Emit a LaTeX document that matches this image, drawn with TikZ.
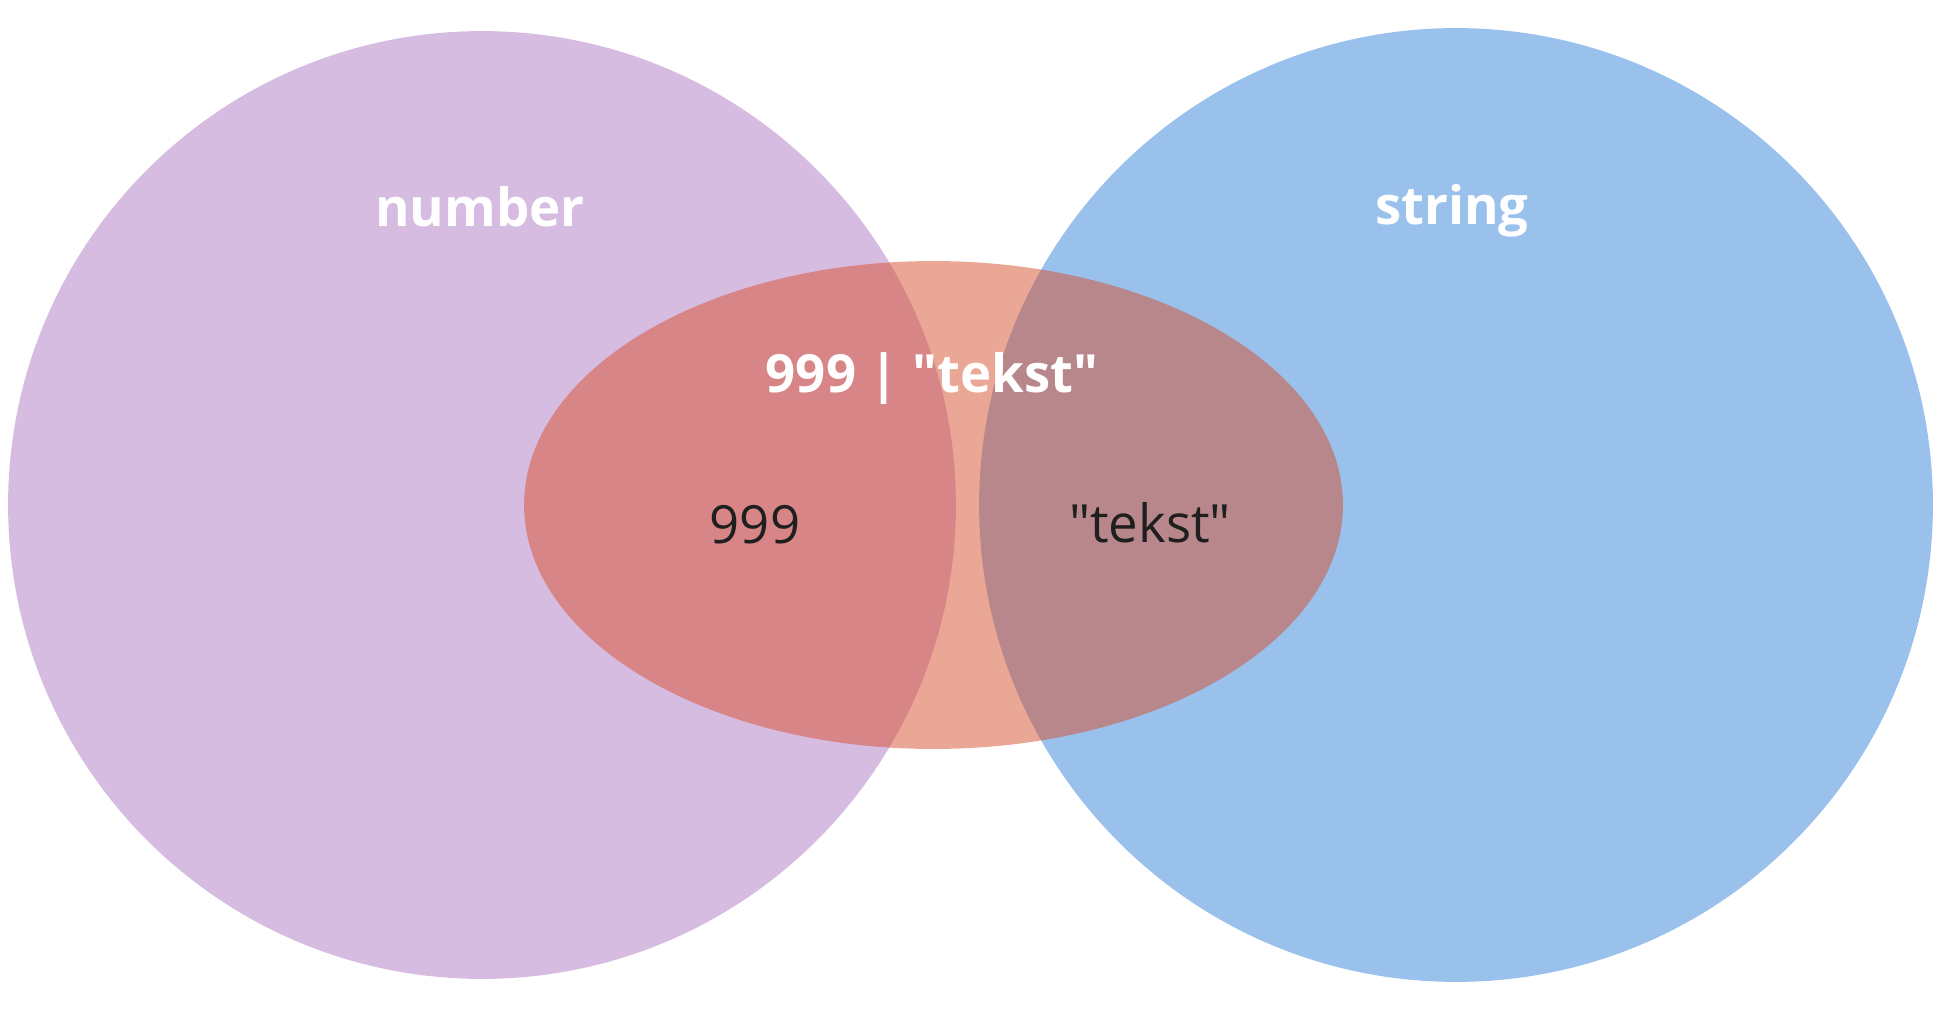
\documentclass[tikz,border=0pt]{standalone}
\usepackage{fontspec}
\setmainfont{Open Sans}
\usetikzlibrary{shapes.geometric}
\definecolor{numfill}{RGB}{215,188,226}
\definecolor{strfill}{RGB}{153,193,236}
\definecolor{unionfill}{RGB}{215,79,43}
\definecolor{valtext}{RGB}{31,31,31}
\tikzset
{
    setcircle/.style = {circle, draw=none, fill=#1, inner sep=0pt},
    unionset/.style  = {ellipse, draw=none, fill=unionfill, fill opacity=0.5, inner sep=0pt, minimum width=16.38cm, minimum height=9.76cm},
    setname/.style   = {anchor=base, text=white, font=\bfseries\fontsize{30}{36}\selectfont},
    value/.style     = {anchor=base, text=valtext, font=\fontsize{30}{36}\selectfont}
}
\newcommand{\qt}{\textquotedbl}

\begin{document}
\begin{tikzpicture}[x=0.02cm, y=-0.02cm]
	\useasboundingbox (0,0) rectangle (1944,1010);
	\node (num) [setcircle=numfill, minimum size=18.96cm] at (482,505) {};
	\node (str) [setcircle=strfill, minimum size=19.08cm] at (1456,505) {};
	\node (uni) [unionset] at (933.5,505) {};

	\node (numlbl) [setname] at (480,227) {number};
	\node (strlbl) [setname] at (1452,225) {string};
	\node (unilbl) [setname] at (932,392) {999 | \qt tekst\qt};
	\node (numval) [value] at (755,543) {999};
	\node (strval) [value] at (1150,542) {\qt tekst\qt};
\end{tikzpicture}
\end{document}
